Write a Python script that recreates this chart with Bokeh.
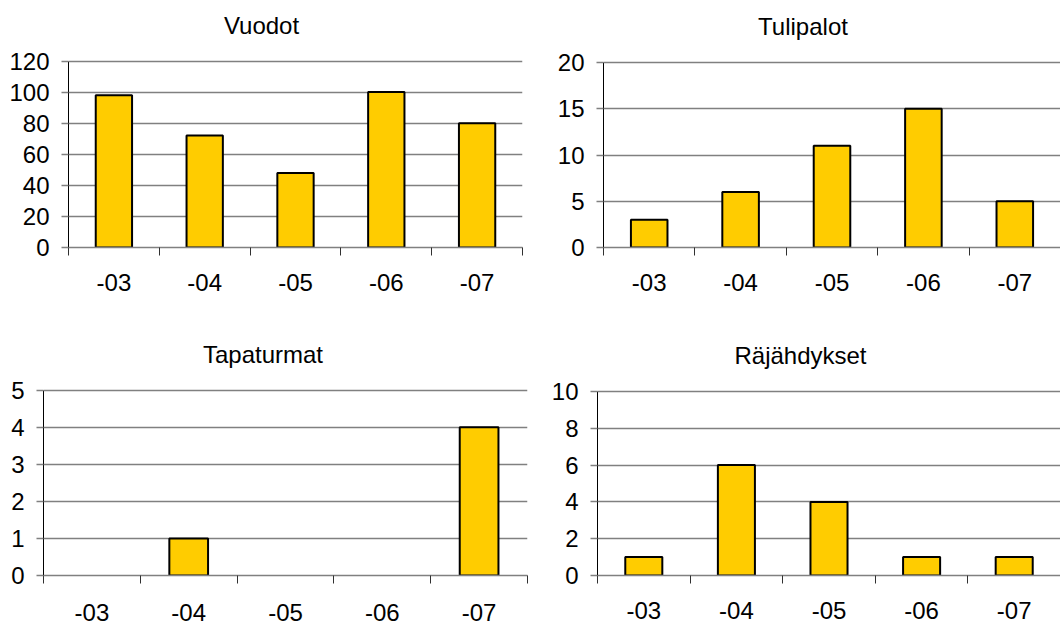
from bokeh.plotting import figure
from bokeh.layouts import column, row
from bokeh.models import Range1d, FixedTicker, Label
from bokeh.embed import file_html
from bokeh.resources import INLINE

# Yearly incident counts by type
years = ["-03", "-04", "-05", "-06", "-07"]
vuodot = [98, 72, 48, 100, 80]
tulipalot = [3, 6, 11, 15, 5]
tapaturmat = [0, 1, 0, 0, 4]
rajahdykset = [1, 6, 4, 1, 1]

FONT = "Liberation Sans"
BAR_FILL = "#FFCC00"
GRID = "#808080"
W, H = 530, 313


def panel(title, values, ymax, ystep, borders, title_dx, label_gap=18):
    # borders: left, right, space above the value area, bottom
    left, right, top, bottom = borders
    n = len(years)
    plot_bottom = H - bottom
    # the frame reaches the top edge so the heading can sit inside it;
    # the value area (0..ymax) occupies the lower part
    y_end = ymax * plot_bottom / (plot_bottom - top)
    p = figure(width=W, height=H, output_backend="svg", toolbar_location=None,
               x_range=Range1d(-0.5, n - 0.5), y_range=Range1d(0, y_end),
               min_border_left=left, min_border_right=right,
               min_border_top=0, min_border_bottom=bottom)
    p.outline_line_color = None
    p.background_fill_color = "white"
    p.border_fill_color = "white"

    # bars (empty years draw nothing)
    xs = [i for i, v in enumerate(values) if v > 0]
    tops = [v for v in values if v > 0]
    p.vbar(x=xs, top=tops, bottom=0, width=0.4,
           fill_color=BAR_FILL, line_color="black", line_width=2)

    yticks = list(range(0, ymax + 1, ystep))
    p.yaxis.ticker = FixedTicker(ticks=yticks)
    p.ygrid.ticker = FixedTicker(ticks=yticks)
    p.ygrid.grid_line_color = GRID
    p.ygrid.grid_line_width = 1.5
    p.xgrid.visible = False

    ya = p.yaxis[0]
    ya.bounds = (0, ymax)
    ya.axis_line_color = "black"
    ya.axis_line_width = 1
    ya.major_tick_in = 0
    ya.major_tick_out = 7
    ya.major_tick_line_color = GRID
    ya.major_tick_line_width = 1.5
    ya.minor_tick_line_color = None
    ya.major_label_standoff = 12
    ya.major_label_text_font = FONT
    ya.major_label_text_font_size = "24px"
    ya.major_label_text_color = "black"

    xa = p.xaxis[0]
    xa.ticker = FixedTicker(ticks=list(range(n)),
                            minor_ticks=[i - 0.5 for i in range(n + 1)])
    xa.major_label_overrides = {i: y for i, y in enumerate(years)}
    xa.axis_line_color = GRID
    xa.axis_line_width = 1.5
    xa.major_tick_in = 0
    xa.major_tick_out = 0
    xa.minor_tick_in = 0
    xa.minor_tick_out = 8
    xa.minor_tick_line_color = "#303030"
    xa.minor_tick_line_width = 1
    xa.major_label_standoff = label_gap
    xa.major_label_text_font = FONT
    xa.major_label_text_font_size = "24px"
    xa.major_label_text_color = "black"

    # chart heading, floated above the top-left corner of the value area
    p.add_layout(Label(x=-0.5, y=ymax, x_offset=title_dx, y_offset=36,
                       text=title, text_align="center", text_baseline="alphabetic",
                       text_font=FONT, text_font_size="24px", text_color="black"))
    return p


p1 = panel("Vuodot", vuodot, 120, 20, (68, 8, 61, 64), 193)
p2 = panel("Tulipalot", tulipalot, 20, 5, (73, 0, 62, 66), 199.5)
p3 = panel("Tapaturmat", tapaturmat, 5, 1, (43, 3, 78, 46), 219.5, label_gap=20)
p4 = panel("Räjähdykset", rajahdykset, 10, 2, (67, 0, 78, 51), 203)

layout = column(row(p1, p2, spacing=0), row(p3, p4, spacing=0), spacing=0)

open("out.html", "w").write(file_html(layout, INLINE))
